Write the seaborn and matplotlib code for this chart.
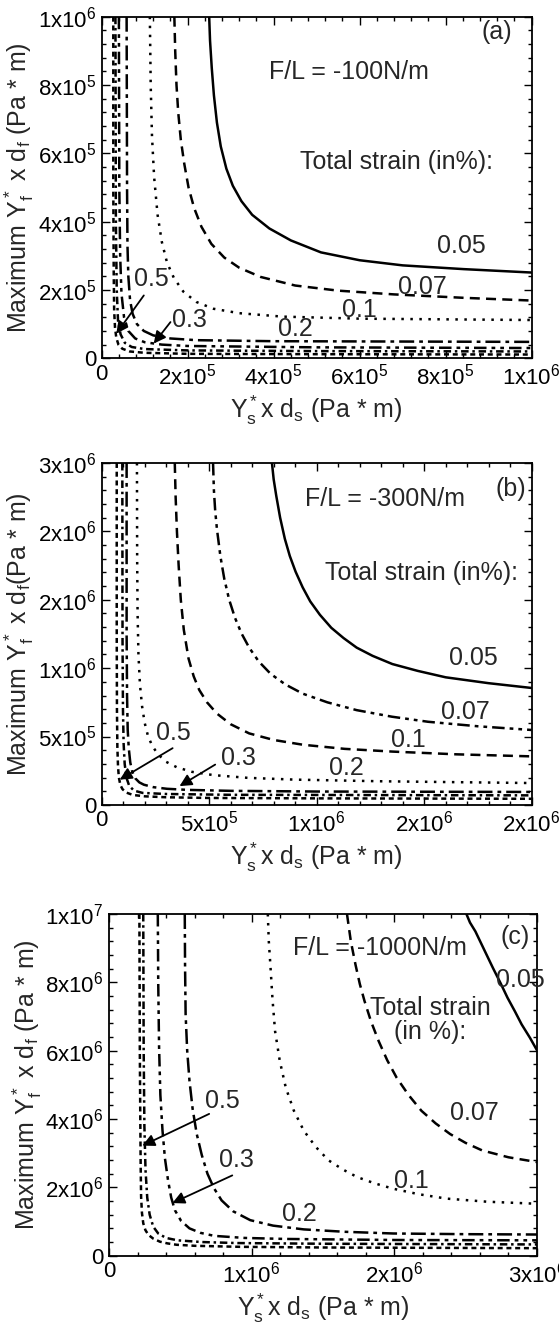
import numpy as np
import matplotlib
matplotlib.use("Agg")
import matplotlib.pyplot as plt
import seaborn as sns
from matplotlib.ticker import AutoMinorLocator

# all values in units of 10^6 Pa*m

# ---- panel (a), F/L = -100 N/m
a005_x = [0.250, 0.252, 0.256, 0.261, 0.268, 0.277, 0.290, 0.305, 0.325, 0.350, 0.390, 0.440,
          0.510, 0.600, 0.700, 0.842, 1.0]
a005_y = [1.0, 0.93, 0.85, 0.77, 0.69, 0.62, 0.555, 0.505, 0.46, 0.42, 0.38, 0.345,
          0.31, 0.287, 0.272, 0.261, 0.251]
a007_x = [0.169, 0.171, 0.174, 0.178, 0.184, 0.192, 0.202, 0.215, 0.232, 0.255, 0.285, 0.320,
          0.370, 0.450, 0.550, 0.680, 0.842, 1.0]
a007_y = [1.0, 0.90, 0.80, 0.72, 0.64, 0.57, 0.50, 0.44, 0.385, 0.335, 0.295, 0.265,
          0.238, 0.213, 0.198, 0.187, 0.177, 0.169]
a01_x = [0.112, 0.114, 0.117, 0.122, 0.130, 0.140, 0.152, 0.168, 0.190, 0.220, 0.260, 0.320,
         0.420, 0.600, 1.0]
a01_y = [1.0, 0.80, 0.65, 0.53, 0.42, 0.34, 0.28, 0.235, 0.195, 0.165, 0.145, 0.132,
         0.122, 0.116, 0.112]
a02_x = [0.058, 0.059, 0.060, 0.062, 0.066, 0.072, 0.082, 0.098, 0.120, 0.160, 0.220, 0.400, 1.0]
a02_y = [1.0, 0.5, 0.33, 0.24, 0.17, 0.13, 0.10, 0.08, 0.067, 0.058, 0.053, 0.050, 0.048]
a03_x = [0.040, 0.041, 0.043, 0.046, 0.052, 0.062, 0.078, 0.100, 0.140, 0.200, 0.500, 1.0]
a03_y = [1.0, 0.5, 0.3, 0.19, 0.12, 0.08, 0.058, 0.047, 0.040, 0.036, 0.032, 0.030]
a04_x = [0.032, 0.033, 0.035, 0.038, 0.044, 0.054, 0.070, 0.100, 0.200, 0.500, 1.0]
a04_y = [1.0, 0.4, 0.2, 0.11, 0.07, 0.045, 0.033, 0.027, 0.023, 0.021, 0.020]
a05_x = [0.027, 0.027, 0.028, 0.029, 0.031, 0.034, 0.039, 0.048, 0.065, 0.100, 0.200, 0.500, 1.0]
a05_y = [1.0, 0.5, 0.25, 0.14, 0.09, 0.06, 0.04, 0.028, 0.020, 0.016, 0.013, 0.012, 0.011]

# ---- panel (b), F/L = -300 N/m
b005_x = [0.792, 0.800, 0.812, 0.830, 0.852, 0.875, 0.902, 0.935, 0.970, 1.015, 1.068, 1.125,
          1.186, 1.260, 1.352, 1.470, 1.600, 1.800, 2.0]
b005_y = [2.5, 2.38, 2.26, 2.10, 1.945, 1.82, 1.705, 1.59, 1.488, 1.39, 1.295, 1.22,
          1.15, 1.09, 1.03, 0.98, 0.933, 0.89, 0.855]
b007_x = [0.518, 0.522, 0.528, 0.536, 0.552, 0.570, 0.593, 0.620, 0.650, 0.686, 0.730, 0.786,
          0.855, 0.936, 1.050, 1.186, 1.350, 1.518, 1.750, 2.0]
b007_y = [2.5, 2.3, 2.15, 2.018, 1.82, 1.655, 1.50, 1.368, 1.255, 1.15, 1.05, 0.958,
          0.88, 0.813, 0.75, 0.693, 0.645, 0.608, 0.575, 0.548]
b01_x = [0.340, 0.344, 0.350, 0.358, 0.368, 0.382, 0.404, 0.428, 0.454, 0.490, 0.536, 0.600,
         0.686, 0.800, 0.936, 1.130, 1.352, 1.650, 2.0]
b01_y = [2.5, 2.25, 2.0, 1.75, 1.5, 1.28, 1.07, 0.94, 0.84, 0.75, 0.668, 0.59,
         0.523, 0.475, 0.44, 0.41, 0.39, 0.37, 0.355]
b02_x = [0.164, 0.165, 0.167, 0.171, 0.178, 0.188, 0.200, 0.216, 0.236, 0.262, 0.300, 0.350,
         0.420, 0.520, 0.680, 0.900, 1.300, 2.0]
b02_y = [2.5, 1.8, 1.4, 1.1, 0.88, 0.72, 0.60, 0.50, 0.43, 0.37, 0.315, 0.275,
         0.242, 0.218, 0.198, 0.185, 0.173, 0.16]
b03_x = [0.116, 0.116, 0.118, 0.121, 0.126, 0.133, 0.142, 0.156, 0.175, 0.196, 0.240, 0.304,
         0.400, 0.600, 1.000, 2.0]
b03_y = [2.5, 1.25, 0.8, 0.55, 0.415, 0.31, 0.245, 0.195, 0.165, 0.148, 0.13, 0.118,
         0.11, 0.103, 0.098, 0.095]
b04_x = [0.096, 0.097, 0.099, 0.102, 0.107, 0.115, 0.128, 0.150, 0.190, 0.300, 0.600, 2.0]
b04_y = [2.5, 1.2, 0.7, 0.45, 0.30, 0.20, 0.14, 0.105, 0.088, 0.080, 0.074, 0.070]
b05_x = [0.070, 0.070, 0.071, 0.073, 0.076, 0.080, 0.087, 0.097, 0.115, 0.145, 0.200, 0.300,
         0.500, 1.000, 2.0]
b05_y = [2.5, 1.25, 0.7, 0.42, 0.28, 0.20, 0.145, 0.115, 0.09, 0.073, 0.063, 0.056,
         0.051, 0.048, 0.045]

# ---- panel (c), F/L = -1000 N/m
c005_x = [2.505, 2.530, 2.568, 2.630, 2.691, 2.745, 2.793, 2.845, 2.892, 2.950, 3.0]
c005_y = [10.0, 9.75, 9.49, 8.95, 8.42, 7.97, 7.55, 7.15, 6.77, 6.38, 6.01]
c007_x = [1.668, 1.695, 1.728, 1.758, 1.791, 1.837, 1.890, 1.950, 2.016, 2.100, 2.190, 2.290,
          2.391, 2.500, 2.616, 2.800, 3.0]
c007_y = [10.0, 9.2, 8.51, 7.95, 7.45, 6.85, 6.28, 5.72, 5.21, 4.70, 4.24, 3.87,
          3.56, 3.30, 3.08, 2.88, 2.74]
c01_x = [1.113, 1.120, 1.131, 1.146, 1.164, 1.197, 1.239, 1.295, 1.365, 1.450, 1.539, 1.640,
         1.740, 1.860, 1.992, 2.170, 2.367, 2.650, 3.0]
c01_y = [10.0, 9.2, 8.51, 7.5, 6.57, 5.7, 4.92, 4.25, 3.66, 3.18, 2.79, 2.52,
         2.30, 2.12, 1.96, 1.80, 1.67, 1.58, 1.52]
c02_x = [0.531, 0.533, 0.537, 0.548, 0.564, 0.586, 0.615, 0.650, 0.690, 0.735, 0.789, 0.870,
         0.990, 1.150, 1.365, 1.650, 1.992, 2.500, 3.0]
c02_y = [10.0, 8.5, 7.06, 6.0, 5.12, 4.3, 3.56, 2.95, 2.40, 1.98, 1.62, 1.30,
         1.04, 0.88, 0.77, 0.70, 0.65, 0.63, 0.62]
c03_x = [0.342, 0.345, 0.351, 0.360, 0.375, 0.392, 0.414, 0.436, 0.462, 0.505, 0.564, 0.640,
         0.738, 0.950, 1.239, 2.000, 3.0]
c03_y = [10.0, 8.0, 6.09, 4.7, 3.66, 2.85, 2.2, 1.7, 1.33, 1.02, 0.80, 0.67,
         0.58, 0.52, 0.49, 0.46, 0.45]
c04_x = [0.240, 0.243, 0.248, 0.256, 0.268, 0.285, 0.310, 0.345, 0.400, 0.480, 0.650, 0.900,
         1.500, 3.0]
c04_y = [10.0, 6.0, 3.8, 2.5, 1.7, 1.2, 0.85, 0.65, 0.52, 0.45, 0.40, 0.37, 0.35, 0.33]
c05_x = [0.213, 0.216, 0.219, 0.222, 0.225, 0.231, 0.240, 0.255, 0.276, 0.310, 0.357, 0.410,
         0.474, 0.600, 0.915, 1.500, 3.0]
c05_y = [10.0, 6.0, 4.15, 2.6, 1.72, 1.25, 0.95, 0.75, 0.61, 0.50, 0.41, 0.36,
         0.32, 0.29, 0.26, 0.24, 0.22]

# ticks
a_ticks = [0, 0.2, 0.4, 0.6, 0.8, 1.0]
a_ticklabels = ["0", "2x10$^5$", "4x10$^5$", "6x10$^5$", "8x10$^5$", "1x10$^6$"]
b_xticks = [0, 0.5, 1.0, 1.5, 2.0]
b_xticklabels = ["0", "5x10$^5$", "1x10$^6$", "2x10$^6$", "2x10$^6$"]
b_yticks = [0, 0.5, 1.0, 1.5, 2.0, 2.5]
b_yticklabels = ["0", "5x10$^5$", "1x10$^6$", "2x10$^6$", "2x10$^6$", "3x10$^6$"]
c_xticks = [0, 1, 2, 3]
c_xticklabels = ["0", "1x10$^6$", "2x10$^6$", "3x10$^6$"]
c_yticks = [0, 2, 4, 6, 8, 10]
c_yticklabels = ["0", "2x10$^6$", "4x10$^6$", "6x10$^6$", "8x10$^6$", "1x10$^7$"]

sns.set_style("ticks")
plt.rcParams['font.family'] = ['Liberation Sans', 'DejaVu Sans']
plt.rcParams['mathtext.fontset'] = 'custom'
plt.rcParams['mathtext.rm'] = 'Liberation Sans'
plt.rcParams['mathtext.it'] = 'Liberation Sans:italic'
plt.rcParams['mathtext.bf'] = 'Liberation Sans:bold'
plt.rcParams['mathtext.sf'] = 'Liberation Sans'

SOLID = '-'
DASH = (0, (4, 2.5))
DOT = (0, (1, 2.6))
DASHDOT = (0, (6, 2, 1.5, 2))
DASHDOTDOT = (0, (5, 2, 1.5, 2, 1.5, 2))
SHORTDOT = (0, (3, 1.5, 1, 1.5))
SHORT = (0, (2, 1.5))

fig = plt.figure(figsize=(5.59, 13.25), dpi=100)
ax_a = fig.add_axes([0.1819, 0.7296, 0.7692, 0.2578])
ax_b = fig.add_axes([0.1819, 0.3925, 0.7692, 0.2581])
ax_c = fig.add_axes([0.1950, 0.0523, 0.7657, 0.2579])


def curve(ax, x, y, ls):
    sns.lineplot(x=x, y=y, ax=ax, sort=False, estimator=None, color='k',
                 lw=1.8, linestyle=ls)


def frame(ax, xmax, ymax, xt, xtl, yt, ytl, ylab, xlab):
    ax.set_xlim(0, xmax)
    ax.set_ylim(0, ymax)
    ax.set_xticks(xt)
    ax.set_xticklabels(xtl)
    ax.set_yticks(yt)
    ax.set_yticklabels(ytl)
    ax.xaxis.set_minor_locator(AutoMinorLocator(5))
    ax.yaxis.set_minor_locator(AutoMinorLocator(5))
    ax.tick_params(which='both', direction='in', top=True, right=True,
                   width=1, colors='k', labelsize=16)
    ax.tick_params(which='major', length=6, pad=4)
    ax.tick_params(which='minor', length=3)
    for s in ax.spines.values():
        s.set_linewidth(1.3)
        s.set_color('k')
    ax.set_ylabel(ylab, fontsize=18, labelpad=1)
    ax.set_xlabel(xlab, fontsize=18, labelpad=3)


def txt(ax, x, y, s):
    ax.text(x, y, s, transform=ax.transAxes, ha='center', va='center', fontsize=18)


def arrow(ax, tail, tip):
    ax.annotate('', xy=tip, xytext=tail, xycoords='axes fraction',
                arrowprops=dict(arrowstyle='-|>', color='k', lw=1.3,
                                mutation_scale=18, shrinkA=0, shrinkB=0))


ylab = "Maximum Y$_\\mathrm{f}^*$ x d$_\\mathrm{f}$ (Pa * m)"
xlab = "Y$_\\mathrm{s}^*$x d$_\\mathrm{s}$ (Pa * m)"

# (a)
ax = ax_a
curve(ax, a005_x, a005_y, SOLID)
curve(ax, a007_x, a007_y, DASH)
curve(ax, a01_x, a01_y, DOT)
curve(ax, a02_x, a02_y, DASHDOT)
curve(ax, a03_x, a03_y, DASHDOTDOT)
curve(ax, a04_x, a04_y, SHORTDOT)
curve(ax, a05_x, a05_y, SHORT)
frame(ax, 1.0, 1.0, a_ticks, a_ticklabels, a_ticks, a_ticklabels, ylab, xlab)
txt(ax, 0.92, 0.955, "(a)")
txt(ax, 0.576, 0.838, "F/L = -100N/m")
txt(ax, 0.686, 0.575, "Total strain (in%):")
txt(ax, 0.837, 0.328, "0.05")
txt(ax, 0.746, 0.21, "0.07")
txt(ax, 0.60, 0.142, "0.1")
txt(ax, 0.45, 0.087, "0.2")
txt(ax, 0.115, 0.232, "0.5")
txt(ax, 0.204, 0.113, "0.3")
arrow(ax, (0.098, 0.184), (0.034, 0.072))
arrow(ax, (0.160, 0.106), (0.121, 0.043))

# (b)
ax = ax_b
curve(ax, b005_x, b005_y, SOLID)
curve(ax, b007_x, b007_y, DASHDOTDOT)
curve(ax, b01_x, b01_y, DASH)
curve(ax, b02_x, b02_y, DOT)
curve(ax, b03_x, b03_y, DASHDOT)
curve(ax, b04_x, b04_y, SHORTDOT)
curve(ax, b05_x, b05_y, SHORT)
frame(ax, 2.0, 2.5, b_xticks, b_xticklabels, b_yticks, b_yticklabels,
      "Maximum Y$_\\mathrm{f}^*$ x d$_\\mathrm{f}$(Pa * m)", xlab)
txt(ax, 0.952, 0.923, "(b)")
txt(ax, 0.659, 0.894, "F/L = -300N/m")
txt(ax, 0.744, 0.677, "Total strain (in%):")
txt(ax, 0.865, 0.431, "0.05")
txt(ax, 0.846, 0.272, "0.07")
txt(ax, 0.713, 0.19, "0.1")
txt(ax, 0.568, 0.108, "0.2")
txt(ax, 0.166, 0.209, "0.5")
txt(ax, 0.318, 0.137, "0.3")
arrow(ax, (0.165, 0.166), (0.042, 0.074))
arrow(ax, (0.264, 0.118), (0.181, 0.055))

# (c)
ax = ax_c
curve(ax, c005_x, c005_y, SOLID)
curve(ax, c007_x, c007_y, DASH)
curve(ax, c01_x, c01_y, DOT)
curve(ax, c02_x, c02_y, DASHDOT)
curve(ax, c03_x, c03_y, DASHDOTDOT)
curve(ax, c04_x, c04_y, SHORTDOT)
curve(ax, c05_x, c05_y, SHORT)
frame(ax, 3.0, 10.0, c_xticks, c_xticklabels, c_yticks, c_yticklabels, ylab, xlab)
txt(ax, 0.949, 0.934, "(c)")
txt(ax, 0.634, 0.90, "F/L = -1000N/m")
ax.text(0.751, 0.69, "Total strain\n(in %):", transform=ax.transAxes,
        ha='center', va='center', fontsize=18, linespacing=1.0)
txt(ax, 0.96, 0.808, "0.05")
txt(ax, 0.853, 0.419, "0.07")
txt(ax, 0.707, 0.22, "0.1")
txt(ax, 0.444, 0.123, "0.2")
txt(ax, 0.265, 0.453, "0.5")
txt(ax, 0.298, 0.281, "0.3")
arrow(ax, (0.234, 0.415), (0.078, 0.322))
arrow(ax, (0.288, 0.235), (0.148, 0.154))

fig.savefig("out.png", dpi=100)
